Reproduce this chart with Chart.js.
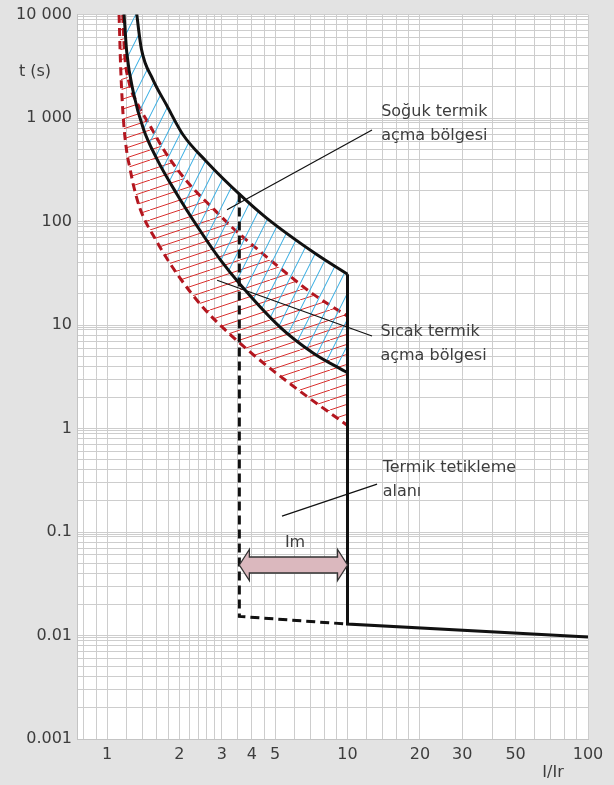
<!DOCTYPE html>
<html>
<head>
<meta charset="utf-8">
<script src="https://cdn.jsdelivr.net/npm/chart.js@4"></script>
<style>
  html, body { margin: 0; padding: 0; background: #e3e3e3; }
  .wrap { width: 614px; height: 785px; position: relative; }
</style>
</head>
<body>
<div class="wrap"><canvas id="chart"></canvas></div>
<script>
const FONT = "'DejaVu Sans', sans-serif";
const TEXT = '#3d3d3d';

// grid + tick labels
const xGridValues = [0.8, 0.9, 1, 1.2, 1.4, 1.6, 1.8, 2, 2.2, 2.4, 2.6, 2.8, 3, 3.5, 4, 4.5, 5, 6, 7, 8, 9,
  10, 12, 14, 16, 18, 20, 30, 40, 50, 60, 70, 80, 90, 100];
const xLabelValues = [1, 2, 3, 4, 5, 10, 20, 30, 50, 100];
const yDecades = [0.001, 0.01, 0.1, 1, 10, 100, 1000, 10000];
const yDecadeSteps = [2, 3, 4, 5, 6, 7, 8, 9, 9.5];
const yLabelTexts = ["0.001", "0.01", "0.1", "1", "10", "100", "1 000", "10 000"];

// cold trip band (black solid curves), I/Ir and t (s); first points sit above the plot top
const coldUpperI = [1.1, 1.2, 1.33, 1.39, 1.55, 1.77, 2.07, 2.6, 3.57, 4.61, 7.45, 10];
const coldUpperT = [1e7, 1e5, 10000, 4640, 2370, 1330, 690, 377, 182, 108, 48, 31];
const coldLowerI = [1.096, 1.177, 1.208, 1.286, 1.416, 1.609, 1.936, 2.39, 2.95, 3.573, 5.24, 7.19, 10];
const coldLowerT = [1e5, 10000, 4311, 1778, 789, 406, 190, 87.6, 43.1, 24.8, 9.57, 5.38, 3.46];

// hot trip band (red dashed curves)
const hotOuterI = [1.086, 1.122, 1.14, 1.169, 1.208, 1.246, 1.286, 1.371, 1.609, 1.973, 2.514, 3.246, 4.194, 6.149, 10];
const hotOuterT = [1e5, 10000, 2978, 985, 471, 325, 227, 134, 64.2, 30.3, 14.7, 8.14, 4.85, 2.42, 1.07];
const hotInnerI = [1.108, 1.162, 1.182, 1.234, 1.329, 1.534, 1.709, 1.949, 2.279, 2.759, 3.342, 4.327, 5.24, 7.19, 10];
const hotInnerT = [1e5, 10000, 4311, 2219, 1425, 789, 507, 325, 209, 134, 86.2, 51.5, 35.6, 19.9, 12.2];

// magnetic trip lines
const tripSetI = [3.55, 3.55, 10];
const tripSetT = [187, 0.0153, 0.0129];
const tripMaxI = [10, 10, 100];
const tripMaxT = [31, 0.0129, 0.0097];

function pts(xs, ys) {
  return xs.map((x, i) => ({ x: x, y: ys[i] }));
}

function hatch(color, w, h) {
  const c = document.createElement('canvas');
  c.width = w; c.height = h;
  const g = c.getContext('2d');
  g.strokeStyle = color;
  g.lineWidth = 1;
  for (let k = -1; k <= 1; k++) {
    g.beginPath();
    g.moveTo(k * w, h);
    g.lineTo(k * w + w, 0);
    g.stroke();
  }
  return g.createPattern(c, 'repeat');
}

const blueHatch = hatch('#2faae2', 13, 26);
const redHatch = hatch('#d9302f', 30, 10);

const yGridValues = [];
yDecades.forEach((d, i) => {
  yGridValues.push(d);
  if (i < yDecades.length - 1) yDecadeSteps.forEach(s => yGridValues.push(d * s));
});

// annotation anchors (data coordinates)
const notes = [
  { lines: ['Soğuk termik', 'açma bölgesi'], text: [13.8, 1140], from: [12.64, 767], to: [3.155, 130] },
  { lines: ['Sıcak termik', 'açma bölgesi'], text: [13.7, 8.56], from: [12.64, 7.84], to: [2.87, 27.1] },
  { lines: ['Termik tetikleme', 'alanı'], text: [14.0, 0.42], from: [13.27, 0.29], to: [5.34, 0.1425] }
];
const imArrow = { from: 3.55, to: 10, level: 0.048, labelAt: [6.05, 0.078] };

const plotBackground = {
  id: 'plotBackground',
  beforeDraw(chart) {
    const { ctx, chartArea: a } = chart;
    ctx.save();
    ctx.fillStyle = '#e3e3e3';
    ctx.fillRect(0, 0, chart.width, chart.height);
    ctx.fillStyle = '#ffffff';
    ctx.fillRect(a.left, a.top, a.right - a.left, a.bottom - a.top);
    ctx.restore();
  }
};

const annotations = {
  id: 'annotations',
  afterDatasetsDraw(chart) {
    const { ctx } = chart;
    const xs = chart.scales.x, ys = chart.scales.y;
    const px = v => xs.getPixelForValue(v), py = v => ys.getPixelForValue(v);
    ctx.save();
    ctx.fillStyle = TEXT;
    ctx.strokeStyle = '#111';
    ctx.lineWidth = 1.2;
    ctx.font = '16px ' + FONT;
    ctx.textBaseline = 'middle';
    ctx.textAlign = 'left';

    notes.forEach(n => {
      ctx.beginPath();
      ctx.moveTo(px(n.from[0]), py(n.from[1]));
      ctx.lineTo(px(n.to[0]), py(n.to[1]));
      ctx.stroke();
      n.lines.forEach((t, i) => ctx.fillText(t, px(n.text[0]), py(n.text[1]) + i * 24));
    });

    // Im double arrow
    const x1 = px(imArrow.from), x2 = px(imArrow.to), yc = py(imArrow.level);
    const hl = 10, hh = 15.5, sh = 8;
    ctx.beginPath();
    ctx.moveTo(x1, yc);
    ctx.lineTo(x1 + hl, yc - hh);
    ctx.lineTo(x1 + hl, yc - sh);
    ctx.lineTo(x2 - hl, yc - sh);
    ctx.lineTo(x2 - hl, yc - hh);
    ctx.lineTo(x2, yc);
    ctx.lineTo(x2 - hl, yc + hh);
    ctx.lineTo(x2 - hl, yc + sh);
    ctx.lineTo(x1 + hl, yc + sh);
    ctx.lineTo(x1 + hl, yc + hh);
    ctx.closePath();
    ctx.fillStyle = '#dbb8be';
    ctx.fill();
    ctx.strokeStyle = '#333';
    ctx.lineWidth = 1.3;
    ctx.stroke();

    ctx.fillStyle = TEXT;
    ctx.textAlign = 'center';
    ctx.fillText('Im', px(imArrow.labelAt[0]), py(imArrow.labelAt[1]));

    // axis titles
    ctx.fillText('t (s)', 35, 72);
    ctx.fillText('I/Ir', 553, 773);
    ctx.restore();
  }
};

const lineBase = { pointRadius: 0, pointHoverRadius: 0, clip: 0, borderCapStyle: 'butt' };

new Chart(document.getElementById('chart'), {
  type: 'line',
  data: {
    datasets: [
      Object.assign({}, lineBase, { data: pts(tripMaxI, tripMaxT), borderColor: '#111', borderWidth: 3, fill: false, tension: 0 }),
      Object.assign({}, lineBase, { data: pts(tripSetI, tripSetT), borderColor: '#111', borderWidth: 3, borderDash: [9, 5], fill: false, tension: 0 }),
      Object.assign({}, lineBase, { data: pts(coldLowerI, coldLowerT), borderColor: '#111', borderWidth: 3, fill: false, cubicInterpolationMode: 'monotone' }),
      Object.assign({}, lineBase, { data: pts(coldUpperI, coldUpperT), borderColor: '#111', borderWidth: 3, fill: 2, backgroundColor: blueHatch, cubicInterpolationMode: 'monotone' }),
      Object.assign({}, lineBase, { data: pts(hotInnerI, hotInnerT), borderColor: '#b3161f', borderWidth: 3, borderDash: [8, 5], fill: false, cubicInterpolationMode: 'monotone' }),
      Object.assign({}, lineBase, { data: pts(hotOuterI, hotOuterT), borderColor: '#b3161f', borderWidth: 3, borderDash: [8, 5], fill: 4, backgroundColor: redHatch, cubicInterpolationMode: 'monotone' })
    ]
  },
  options: {
    responsive: true,
    maintainAspectRatio: false,
    animation: false,
    layout: { padding: { top: 11, right: 26, left: 0, bottom: 0 } },
    plugins: {
      legend: { display: false },
      tooltip: { enabled: false },
      filler: { propagate: false }
    },
    scales: {
      x: {
        type: 'logarithmic',
        min: 0.75,
        max: 100,
        afterBuildTicks: s => { s.ticks = xGridValues.map(v => ({ value: v })); },
        afterFit: s => { s.height = 46; },
        ticks: {
          autoSkip: false, maxRotation: 0, padding: 6, color: TEXT,
          font: { family: FONT, size: 16 },
          callback: v => xLabelValues.includes(v) ? String(v) : ''
        },
        grid: { color: '#cdcdcd', lineWidth: 1, drawTicks: false },
        border: { color: '#c4c4c4' }
      },
      y: {
        type: 'logarithmic',
        min: 0.001,
        max: 10000,
        afterBuildTicks: s => { s.ticks = yGridValues.map(v => ({ value: v })); },
        afterFit: s => { s.width = 77; },
        ticks: {
          autoSkip: false, padding: 5, color: TEXT,
          font: { family: FONT, size: 16 },
          callback: v => { const i = yDecades.indexOf(v); return i >= 0 ? yLabelTexts[i] : ''; }
        },
        grid: { color: '#cdcdcd', lineWidth: 1, drawTicks: false },
        border: { color: '#c4c4c4' }
      }
    }
  },
  plugins: [plotBackground, annotations]
});
</script>
</body>
</html>
